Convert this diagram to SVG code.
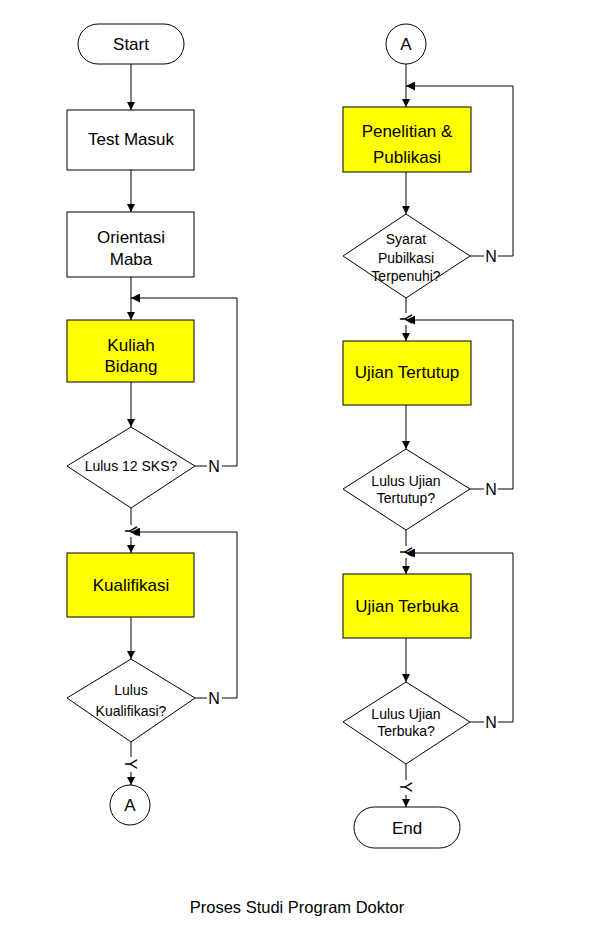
<svg xmlns="http://www.w3.org/2000/svg" width="593" height="932" viewBox="0 0 593 932">
<style>
.sh{fill:#fff;stroke:#000;stroke-width:1}
.yl{fill:#ffff00;stroke:#000;stroke-width:1}
.t{font-family:"Liberation Sans",Arial,sans-serif;font-size:17px;fill:#000;text-anchor:middle}
.d{font-family:"Liberation Sans",Arial,sans-serif;font-size:14px;fill:#000;text-anchor:middle}
.n{font-family:"Liberation Sans",Arial,sans-serif;font-size:16px;fill:#000;text-anchor:middle}
.c{fill:none;stroke:#000;stroke-width:1}
</style>
<defs>
<marker id="ah" viewBox="0 0 10 10" refX="10" refY="5" markerWidth="8" markerHeight="9" markerUnits="userSpaceOnUse" orient="auto">
<path d="M0,0 L10,5 L0,10 z" fill="#000"/>
</marker>
<marker id="ah2" viewBox="0 0 10 10" refX="10" refY="5" markerWidth="12" markerHeight="9" markerUnits="userSpaceOnUse" orient="auto">
<path d="M0,0 L10,5 L0,10 z" fill="#000"/>
</marker>
</defs>
<rect width="593" height="932" fill="#fff"/>
<g id="connectors">
<line class="c" x1="131" y1="64" x2="131" y2="110" marker-end="url(#ah)"/>
<line class="c" x1="131" y1="170" x2="131" y2="212" marker-end="url(#ah)"/>
<line class="c" x1="131" y1="277" x2="131" y2="320" marker-end="url(#ah)"/>
<polyline class="c" points="207,466 195,466"/>
<polyline class="c" points="222,466 237,466 237,298 131,298" marker-end="url(#ah2)"/>
<line class="c" x1="131" y1="382" x2="131" y2="427" marker-end="url(#ah)"/>
<line class="c" x1="131" y1="508" x2="131" y2="525"/>
<line class="c" x1="131" y1="537" x2="131" y2="553" marker-end="url(#ah)"/>
<polyline class="c" points="237,532 131,532" marker-end="url(#ah2)"/>
<line class="c" x1="131" y1="617" x2="131" y2="659" marker-end="url(#ah)"/>
<polyline class="c" points="207,698 195,698"/>
<polyline class="c" points="222,698 237,698 237,532"/>
<line class="c" x1="131" y1="742" x2="131" y2="757"/>
<line class="c" x1="131" y1="772" x2="131" y2="785" marker-end="url(#ah)"/>
<line class="c" x1="406" y1="64" x2="406" y2="107" marker-end="url(#ah)"/>
<polyline class="c" points="484,256 470,256"/>
<polyline class="c" points="498,256 513,256 513,86 406,86" marker-end="url(#ah2)"/>
<line class="c" x1="406" y1="172" x2="406" y2="214" marker-end="url(#ah)"/>
<line class="c" x1="406" y1="298" x2="406" y2="313"/>
<line class="c" x1="406" y1="325" x2="406" y2="341" marker-end="url(#ah)"/>
<polyline class="c" points="513,320 406,320" marker-end="url(#ah2)"/>
<line class="c" x1="406" y1="405" x2="406" y2="449" marker-end="url(#ah)"/>
<polyline class="c" points="484,489 470,489"/>
<polyline class="c" points="498,489 513,489 513,320"/>
<line class="c" x1="406" y1="530" x2="406" y2="546"/>
<line class="c" x1="406" y1="558" x2="406" y2="574" marker-end="url(#ah)"/>
<polyline class="c" points="513,553 406,553" marker-end="url(#ah2)"/>
<line class="c" x1="406" y1="638" x2="406" y2="682" marker-end="url(#ah)"/>
<polyline class="c" points="484,722 470,722"/>
<polyline class="c" points="498,722 513,722 513,553"/>
<line class="c" x1="406" y1="764" x2="406" y2="780"/>
<line class="c" x1="406" y1="795" x2="406" y2="807" marker-end="url(#ah)"/>
<text class="n" x="214" y="472">N</text>
<text class="n" x="214" y="704">N</text>
<text class="n" x="491" y="262">N</text>
<text class="n" x="491" y="495">N</text>
<text class="n" x="491" y="728">N</text>
<text class="n" transform="translate(125,764) rotate(90)" x="0" y="0">Y</text>
<text class="n" transform="translate(125,531) rotate(90)" x="0" y="0">Y</text>
<text class="n" transform="translate(400,319) rotate(90)" x="0" y="0">Y</text>
<text class="n" transform="translate(400,552) rotate(90)" x="0" y="0">Y</text>
<text class="n" transform="translate(400,787) rotate(90)" x="0" y="0">Y</text>
</g>
<g id="start"><rect class="sh" x="78" y="24" width="106" height="40" rx="20"/><text class="t" x="131" y="50">Start</text></g>
<g id="test-masuk"><rect class="sh" x="67" y="110" width="127" height="60"/><text class="t" x="131" y="145">Test Masuk</text></g>
<g id="orientasi"><rect class="sh" x="67" y="212" width="127" height="65"/><text class="t" x="131" y="243">Orientasi</text><text class="t" x="131" y="265">Maba</text></g>
<g id="kuliah"><rect class="yl" x="67" y="320" width="127" height="62"/><text class="t" x="131" y="351">Kuliah</text><text class="t" x="131" y="372">Bidang</text></g>
<g id="lulus12"><polygon class="sh" points="131,427 195,466 131,508 67,466"/><text class="d" x="131" y="471">Lulus 12 SKS?</text></g>
<g id="kualifikasi"><rect class="yl" x="67" y="553" width="127" height="64"/><text class="t" x="131" y="591">Kualifikasi</text></g>
<g id="lulus-kual"><polygon class="sh" points="131,659 195,698 131,742 67,698"/><text class="d" x="131" y="695">Lulus</text><text class="d" x="131" y="716">Kualifikasi?</text></g>
<g id="a-left"><circle class="sh" cx="130" cy="805" r="20"/><text class="t" x="130" y="811">A</text></g>
<g id="a-right"><circle class="sh" cx="406" cy="44" r="20"/><text class="t" x="406" y="50">A</text></g>
<g id="penelitian"><rect class="yl" x="343" y="107" width="128" height="65"/><text class="t" x="407" y="137">Penelitian &amp;</text><text class="t" x="407" y="163">Publikasi</text></g>
<g id="syarat"><polygon class="sh" points="406,214 470,256 406,298 343,256"/><text class="d" x="406" y="244">Syarat</text><text class="d" x="406" y="263">Pubilkasi</text><text class="d" x="406" y="281">Terpenuhi?</text></g>
<g id="ujian-tertutup"><rect class="yl" x="343" y="341" width="128" height="64"/><text class="t" x="407" y="378">Ujian Tertutup</text></g>
<g id="lulus-tertutup"><polygon class="sh" points="406,449 470,489 406,530 343,489"/><text class="d" x="406" y="486">Lulus Ujian</text><text class="d" x="406" y="503">Tertutup?</text></g>
<g id="ujian-terbuka"><rect class="yl" x="343" y="574" width="128" height="64"/><text class="t" x="407" y="612">Ujian Terbuka</text></g>
<g id="lulus-terbuka"><polygon class="sh" points="406,682 470,722 406,764 343,722"/><text class="d" x="406" y="719">Lulus Ujian</text><text class="d" x="406" y="736">Terbuka?</text></g>
<g id="end"><rect class="sh" x="354" y="807" width="106" height="41" rx="20.5"/><text class="t" x="407" y="834">End</text></g>
<text class="d" x="297" y="913" style="font-size:16.5px">Proses Studi Program Doktor</text>
</svg>
